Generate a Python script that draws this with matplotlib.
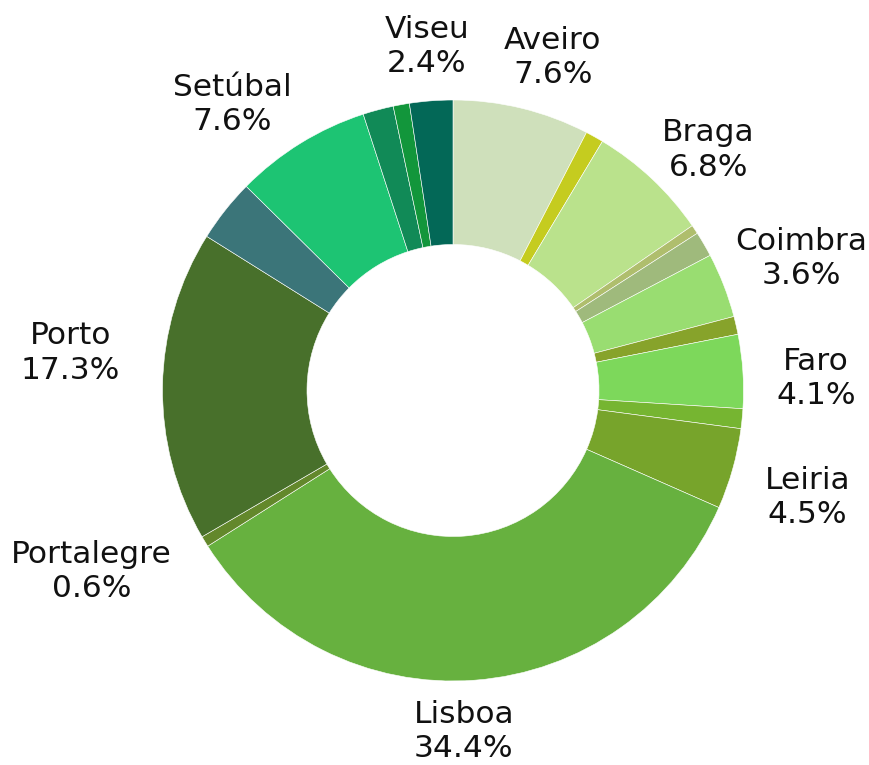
import numpy as np
import matplotlib
matplotlib.use("Agg")
import matplotlib.pyplot as plt

# ---- data (clockwise from 12 o'clock) ----
regions = ["Aveiro", "", "Braga", "", "", "Coimbra", "", "Faro", "", "Leiria",
           "Lisboa", "Portalegre", "Porto", "", "Setúbal", "", "", "Viseu"]
shares = [7.6, 1.0, 6.8, 0.5, 1.4, 3.6, 1.0, 4.1, 1.1, 4.5,
          34.4, 0.6, 17.3, 3.5, 7.6, 1.7, 0.9, 2.4]
colors = ["#cfe0bb", "#c5cc1f", "#bae28c", "#afbe6d", "#9fba7c", "#99dd71",
          "#87a32b", "#7dd85b", "#76b531", "#77a42b", "#67b13f", "#63882b",
          "#48702b", "#3b7579", "#1dc473", "#118a57", "#12963b", "#036857"]

# ---- label layout (radius factor, angular nudge in degrees) ----
label_dist = [1.195, 1, 1.207, 1, 1, 1.282, 1, 1.25, 1, 1.274,
              1.176, 1.391, 1.323, 1, 1.244, 1, 1, 1.189]
label_nudge = [3.0, 0, 3.5, 0, 0, 0.5, 0, 1.9, 0, 1.2,
               2.5, 4.7, 4.7, 0, -5.9, 0, 0, 0.0]

W, H, DPI = 870, 765, 100
fig = plt.figure(figsize=(W / DPI, H / DPI), dpi=DPI)
ax = fig.add_axes([0, 0, 1, 1])

cx, cy = 453, H - 390.5
R = 290.5
ring = 144.5

ax.pie(shares, colors=colors, startangle=90, counterclock=False,
       radius=R, center=(cx, cy), frame=True,
       wedgeprops=dict(width=ring, edgecolor="white", linewidth=0.4))
ax.set_xlim(0, W)
ax.set_ylim(0, H)
ax.set_aspect("equal")
ax.axis("off")

total = sum(shares)
cum = np.cumsum([0] + shares)
for i, name in enumerate(regions):
    if not name:
        continue
    mid = (cum[i] + cum[i + 1]) / 2 / total * 360 + label_nudge[i]
    t = np.radians(mid)
    x = cx + label_dist[i] * R * np.sin(t)
    y = cy + label_dist[i] * R * np.cos(t)
    ax.text(x, y, f"{name}\n{shares[i]:.1f}%", ha="center", va="center",
            multialignment="center", fontsize=22.5, color="#111111",
            family="DejaVu Sans", linespacing=1.22)

fig.savefig("out.png", dpi=DPI)
